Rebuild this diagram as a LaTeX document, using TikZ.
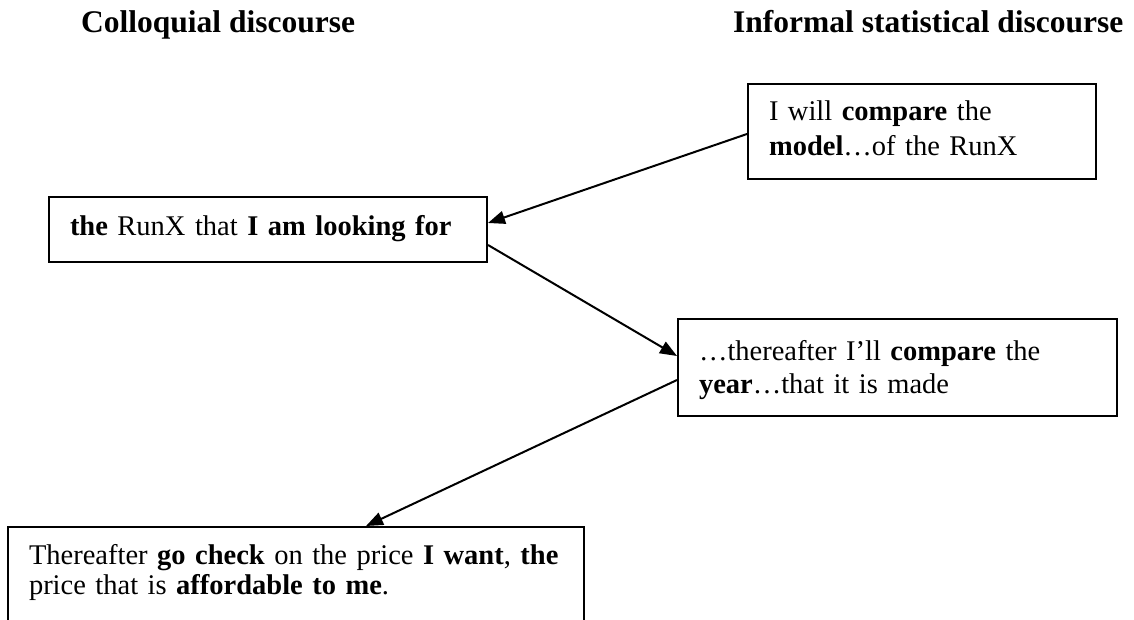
\documentclass[tikz,border=0pt]{standalone}
\usepackage{fontspec}
\setmainfont{Liberation Serif}
\usetikzlibrary{arrows.meta}
\begin{document}
\begin{tikzpicture}[x=1pt,y=-1pt,
  % #1 = first baseline below the top edge, #2 = bottom edge below the last baseline
  textbox/.style 2 args={draw, line width=2pt, rectangle, inner xsep=21pt, inner ysep=0pt,
    align=left, anchor=north west, font=\fontsize{28.5}{33}\selectfont,
    execute at begin node={\rule{0pt}{#1}},
    execute at end node={\rule[-#2]{0pt}{0pt}}},
  heading/.style={anchor=base west, inner sep=0pt, font=\fontsize{31.5}{36}\selectfont\bfseries},
  link/.style={line width=2pt, -{Triangle[length=17pt,width=13pt]}}]
\useasboundingbox (0,0) rectangle (1134,620);
\clip (0,0) rectangle (1134,620);

% column headings
\node[heading] (hcol) at (81,33) {Colloquial discourse};
\node[heading] (hinf) at (733,33) {Informal statistical discourse};

% statements
\node[textbox={37pt}{23pt}, text width=306pt, font=\fontsize{28.5}{35}\selectfont] (model) at (747,83)
  {I will \textbf{compare} the\\\textbf{model}…of the RunX};
\node[textbox={39pt}{26pt}, text width=396pt] (runx) at (48,196)
  {\textbf{the} RunX that \textbf{I am looking for}};
\node[textbox={41pt}{23pt}, text width=397pt] (year) at (677,318)
  {…thereafter I’ll \textbf{compare} the\\\textbf{year}…that it is made};
\node[textbox={37pt}{60pt}, text width=534pt, font=\fontsize{28.5}{30}\selectfont] (price) at (7,526)
  {\mbox{Thereafter \textbf{go check} on the price \textbf{I want}, \textbf{the}}\\\mbox{price that is \textbf{affordable to me}.}};

% connectors
\draw[link] ([yshift=-2.5pt]model.west) -- ([yshift=6.5pt]runx.east);
\draw[link] ([yshift=-15.5pt]runx.east) -- ([yshift=11.5pt]year.west);
\draw[link] ([yshift=-12.5pt]year.west) -- ([xshift=70pt]price.north);
\end{tikzpicture}
\end{document}
